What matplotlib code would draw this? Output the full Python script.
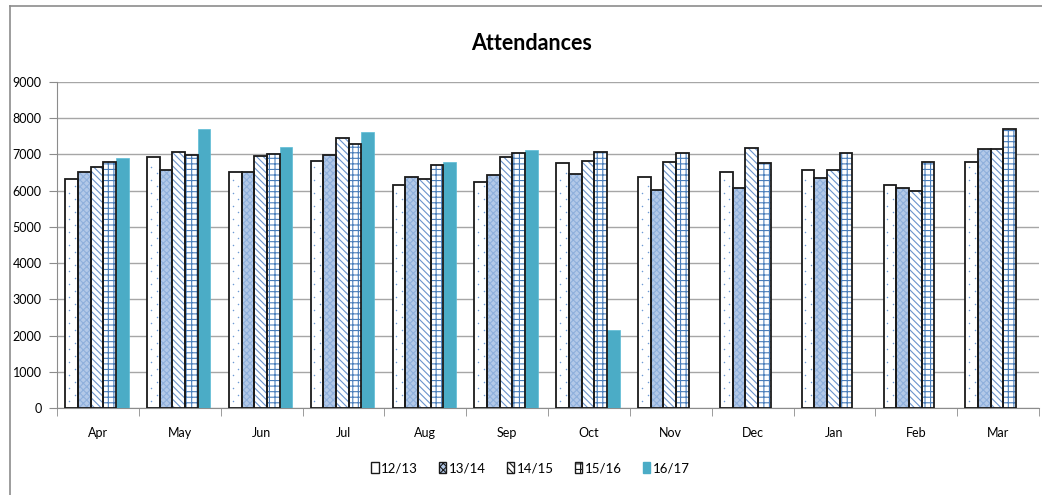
import matplotlib
matplotlib.use("Agg")
import matplotlib.pyplot as plt
from matplotlib.patches import Patch
from matplotlib.lines import Line2D
import numpy as np

plt.rcParams['font.family'] = ['Lato', 'DejaVu Sans']
plt.rcParams['hatch.linewidth'] = 0.8

months = ["Apr", "May", "Jun", "Jul", "Aug", "Sep", "Oct", "Nov", "Dec", "Jan", "Feb", "Mar"]
series_names = ["12/13", "13/14", "14/15", "15/16", "16/17"]

att_12_13 = [6320, 6930, 6510, 6830, 6160, 6240, 6760, 6380, 6510, 6570, 6150, 6790]
att_13_14 = [6510, 6580, 6510, 6980, 6380, 6420, 6450, 6030, 6060, 6350, 6060, 7160]
att_14_15 = [6660, 7080, 6970, 7450, 6320, 6930, 6830, 6790, 7190, 6570, 6000, 7160]
att_15_16 = [6790, 6980, 7010, 7280, 6710, 7050, 7080, 7050, 6760, 7050, 6790, 7700]
att_16_17 = [6910, 7690, 7200, 7610, 6790, 7130, 2150]

yticks = list(range(0, 9001, 1000))

styles = [
    dict(face="white", hatch=None, hcolor="#6f9bd6"),          # dotted texture drawn separately
    dict(face="#b3c9e8", hatch="xxxxx", hcolor="#8fb0dc"),
    dict(face="white", hatch="\\\\\\\\\\", hcolor="#6a93cc"),
    dict(face="white", hatch="+++", hcolor="#4a7ebb"),
    dict(face="#4bacc6", hatch=None, hcolor=None),
]
all_series = [att_12_13, att_13_14, att_14_15, att_15_16, att_16_17]

W, H = 1042, 495
fig = plt.figure(figsize=(W / 100, H / 100), dpi=100)
ax = fig.add_axes([57 / W, 1 - 408 / H, (1039 - 57) / W, (408 - 82) / H])

bw = 0.155
x0 = np.arange(len(months))
for i, (vals, st) in enumerate(zip(all_series, styles)):
    xs = x0[:len(vals)] + 0.1 + bw * i
    if i == 4:
        ax.bar(xs, vals, width=bw, align="edge", color=st["face"],
               edgecolor="#5bbcd6", linewidth=0.5, zorder=3)
        continue
    ax.bar(xs, vals, width=bw, align="edge", color=st["face"],
           edgecolor=st["hcolor"], hatch=st["hatch"], linewidth=0, zorder=3)
    if i == 0:
        # sparse dot texture inside each bar
        for xl, v in zip(xs, vals):
            for k, col in enumerate([0.3, 0.75]):
                ys = np.arange(180 + k * 180, v - 100, 360)
                ax.scatter(np.full(len(ys), xl + col * bw), ys, s=1.2,
                           color=st["hcolor"], linewidths=0, zorder=3.5)
    ax.bar(xs, vals, width=bw, align="edge", fill=False,
           edgecolor="#1a1a1a", linewidth=1.3, zorder=4)

ax.set_xlim(0, len(months))
ax.set_ylim(0, 9000)
ax.set_yticks(yticks)
ax.set_yticklabels([str(v) for v in yticks], fontsize=9)
ax.set_xticks(x0 + 0.5)
ax.set_xticklabels(months, fontsize=9)
ax.set_xticks(np.arange(len(months) + 1), minor=True)
ax.tick_params(axis="x", which="major", length=0, pad=14)
ax.tick_params(axis="x", which="minor", length=6, color="#8c8c8c", direction="out")
ax.tick_params(axis="y", length=6, color="#8c8c8c", direction="out", pad=5)
ax.yaxis.grid(True, color="#a6a6a6", linewidth=1.0, zorder=0)
ax.set_axisbelow(True)
for s in ["top", "right"]:
    ax.spines[s].set_visible(False)
ax.spines["left"].set_color("#8c8c8c")
ax.spines["bottom"].set_color("#8c8c8c")

fig.text(532 / W, 1 - 43 / H, "Attendances", ha="center", va="center",
         fontsize=15.5, fontweight="bold")

handles = []
for i, (st, name) in enumerate(zip(styles, series_names)):
    if i == 4:
        handles.append(Patch(facecolor=st["face"], edgecolor=st["face"], label=name))
    else:
        handles.append(Patch(facecolor=st["face"], edgecolor="#1a1a1a", linewidth=1.0,
                             hatch=st["hatch"], label=name))
leg = fig.legend(handles=handles, loc="center", bbox_to_anchor=(530 / W, 1 - 468 / H),
                 ncol=5, frameon=False, fontsize=9.5, handlelength=0.6, handleheight=0.9,
                 handletextpad=0.15, columnspacing=1.6)

# chart area border
fig.add_artist(Line2D([10 / W, 10 / W], [0, 1 - 6 / H], transform=fig.transFigure,
                      color="#8c8c8c", linewidth=1.2))
fig.add_artist(Line2D([10 / W, 1], [1 - 6 / H, 1 - 6 / H], transform=fig.transFigure,
                      color="#8c8c8c", linewidth=1.2))

fig.savefig("out.png", dpi=100)
